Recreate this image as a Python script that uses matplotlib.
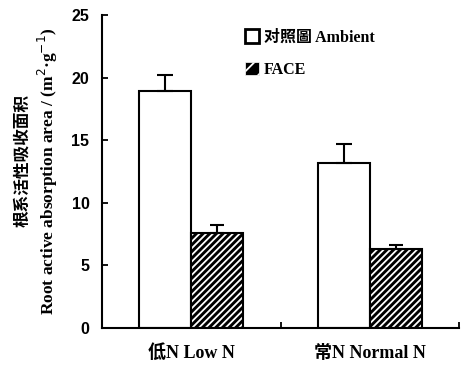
import matplotlib
matplotlib.use("Agg")
import matplotlib.pyplot as plt
from matplotlib.patches import Patch
import numpy as np

groups = ["低N Low N", "常N Normal N"]
series = ["对照圖 Ambient", "FACE"]
ambient = [18.9, 13.2]
ambient_err = [1.3, 1.5]
face = [7.6, 6.3]
face_err = [0.6, 0.35]
yticks = [0, 5, 10, 15, 20, 25]

plt.rcParams['hatch.linewidth'] = 1.3
serif_cjk = ['Liberation Serif', 'Noto Sans CJK SC']

fig = plt.figure(figsize=(4.67, 3.69), dpi=100)
ax = fig.add_axes([0.2184, 0.1111, 0.7645, 0.8482])

x = np.array([0.5, 1.5])
w = 0.29
ax.bar(x - w/2, ambient, w, color='white', edgecolor='black', linewidth=1.5, zorder=2)
ax.errorbar(x - w/2, ambient, yerr=[np.zeros(2), ambient_err], fmt='none',
            ecolor='black', elinewidth=1.5, capsize=6, capthick=1.5, zorder=3)
ax.bar(x + w/2, face, w, color='black', edgecolor='white', hatch='/////', linewidth=0, zorder=2)
ax.bar(x + w/2, face, w, fill=False, edgecolor='black', linewidth=1.5, zorder=2.5)
ax.errorbar(x + w/2, face, yerr=[np.zeros(2), face_err], fmt='none',
            ecolor='black', elinewidth=1.5, capsize=5, capthick=1.5, zorder=3)

ax.set_xlim(0, 2)
ax.set_ylim(0, 25)
ax.set_yticks(yticks)
ax.set_yticklabels([str(t) for t in yticks], fontfamily='Liberation Sans', fontweight='bold', fontsize=11.5)
ax.set_xticks([1, 2])
ax.set_xticklabels([])
ax.tick_params(axis='y', direction='in', length=4, width=1.3, pad=9)
ax.tick_params(axis='x', direction='in', length=4, width=1.3)
for s in ['top', 'right']:
    ax.spines[s].set_visible(False)
for s in ['left', 'bottom']:
    ax.spines[s].set_linewidth(1.5)

for xi, g in zip(x, groups):
    ax.text(xi, -2.0, g, ha='center', va='center', fontsize=13, fontweight='bold',
            family=serif_cjk)

fig.text(0.047, 0.566, "根系活性吸收面积", rotation=90, ha='center', va='center',
         fontsize=12, fontweight='bold', family=['Noto Sans CJK SC'])
fig.text(0.103, 0.537, "Root active absorption area / (m$^{2}$·g$^{-1}$)", rotation=90,
         ha='center', va='center', fontsize=12.5, fontweight='bold', family=serif_cjk)

handles = [Patch(facecolor='white', edgecolor='black', linewidth=2),
           Patch(facecolor='black', edgecolor='white', hatch='//', linewidth=0.5)]
leg = ax.legend(handles, series, loc='upper left', bbox_to_anchor=(0.36, 1.0),
                frameon=False, handlelength=0.9, handleheight=0.9, handletextpad=0.3,
                labelspacing=1.0, prop={'family': serif_cjk, 'weight': 'bold', 'size': 11.5})

fig.savefig("out.png", dpi=100)
